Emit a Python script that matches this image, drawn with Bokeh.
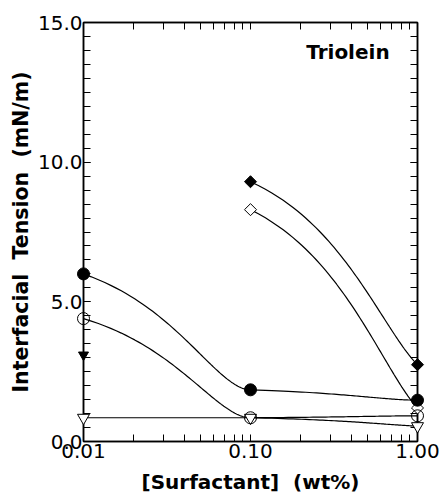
import numpy as np
from bokeh.plotting import figure
from bokeh.models import (LogAxis, LinearAxis, FixedTicker, PrintfTickFormatter,
                          Label, Range1d)
from bokeh.embed import file_html
from bokeh.resources import INLINE

# ---- data ----
conc = [0.01, 0.10, 1.00]
filled_circle = [6.0, 1.85, 1.48]
open_circle = [4.4, 0.85, 0.92]
open_triangle = [0.85, 0.85, 0.55]
filled_triangle_conc = [0.01]
filled_triangle = [3.1]
diamond_conc = [0.10, 1.00]
filled_diamond = [9.3, 2.75]
open_diamond = [8.3, 1.2]

x_major = [0.01, 0.1, 1.0]
x_minor = [0.02, 0.03, 0.04, 0.05, 0.06, 0.07, 0.08, 0.09,
           0.2, 0.3, 0.4, 0.5, 0.6, 0.7, 0.8, 0.9]
y_major = [0, 5, 10, 15]
y_minor = [i * 0.5 for i in range(31)]

title_text = "Triolein"
# second space of each double space is a no-break space so SVG keeps the gap
x_title = "[Surfactant]\u00a0 (wt%)"
y_title = "Interfacial\u00a0 Tension\u00a0 (mN/m)"

FONT = "DejaVu Sans"


def smooth(xs, ys, bends, n=80):
    cx, cy = [], []
    for k in range(len(xs) - 1):
        g = np.linspace(0, 1, n)
        f = g + bends[k] * g * (1 - g)
        cx.extend(xs[k] + g * (xs[k + 1] - xs[k]))
        cy.extend(ys[k] + f * (ys[k + 1] - ys[k]))
    return cx, cy


p = figure(x_axis_type="log", x_range=Range1d(0.01, 1.0), y_range=Range1d(0, 15),
           frame_width=334, frame_height=419,
           min_border_left=83, min_border_right=28, min_border_top=22, min_border_bottom=56,
           output_backend="svg", toolbar_location=None)
p.xgrid.visible = False
p.ygrid.visible = False
p.outline_line_color = "black"
p.outline_line_width = 1.5
p.background_fill_color = "white"
p.border_fill_color = "white"

xt = FixedTicker(ticks=x_major, minor_ticks=x_minor)
yt = FixedTicker(ticks=y_major, minor_ticks=y_minor)


def style_axis(ax, labels=True):
    ax.axis_line_color = "black"
    ax.axis_line_width = 1.5
    ax.major_tick_in = 7
    ax.major_tick_out = 0
    ax.minor_tick_in = 7
    ax.minor_tick_out = 0
    ax.major_tick_line_color = "black"
    ax.minor_tick_line_color = "black"
    ax.major_tick_line_width = 1
    ax.minor_tick_line_width = 1
    if labels:
        ax.major_label_text_font = FONT
        ax.major_label_text_font_size = "20px"
        ax.major_label_text_color = "black"
        ax.axis_label_text_font = FONT
        ax.axis_label_text_font_size = "20px"
        ax.axis_label_text_font_style = "bold"
        ax.axis_label_text_color = "black"
    else:
        ax.major_label_text_font_size = "1px"
        ax.major_label_text_alpha = 0
        ax.major_label_standoff = 0


xa = p.xaxis[0]
xa.ticker = xt
xa.formatter = PrintfTickFormatter(format="%.2f")
xa.axis_label = x_title
xa.major_label_standoff = 2
xa.axis_label_standoff = 9
style_axis(xa)

ya = p.yaxis[0]
ya.ticker = yt
ya.formatter = PrintfTickFormatter(format="%.1f")
ya.axis_label = y_title
ya.major_label_standoff = 1
ya.axis_label_standoff = 2
style_axis(ya)
ya.axis_label_text_font_size = "20.5px"

top = LogAxis(ticker=FixedTicker(ticks=x_major, minor_ticks=x_minor))
style_axis(top, labels=False)
p.add_layout(top, "above")
right = LinearAxis(ticker=FixedTicker(ticks=y_major, minor_ticks=y_minor))
style_axis(right, labels=False)
p.add_layout(right, "right")

LW = 1.2
LEVEL = "annotation"  # drawn without frame clipping, so edge markers show whole
for ys, bends in [(filled_circle, [1.0, 1.0]), (open_circle, [1.0, 1.0]),
                  (open_triangle, [1.0, 0.65])]:
    cx, cy = smooth(conc, ys, bends)
    p.line(cx, cy, line_color="black", line_width=LW, level=LEVEL)
for ys in [filled_diamond, open_diamond]:
    cx, cy = smooth(diamond_conc, ys, [0.65])
    p.line(cx, cy, line_color="black", line_width=LW, level=LEVEL)

# markers
p.scatter(diamond_conc, open_diamond, marker="square", angle=np.pi / 4, size=8.5,
          fill_color="white", line_color="black", line_width=1, level=LEVEL)
p.scatter(diamond_conc, filled_diamond, marker="square", angle=np.pi / 4, size=8.5,
          fill_color="black", line_color="black", line_width=1, level=LEVEL)
p.scatter(conc, open_triangle, marker="inverted_triangle", size=12,
          fill_color="white", line_color="black", line_width=1, level=LEVEL)
p.scatter(conc, open_circle, marker="circle", size=12,
          fill_color=None, line_color="black", line_width=1, level=LEVEL)
p.scatter(conc, filled_circle, marker="circle", size=12,
          fill_color="black", line_color="black", line_width=1, level=LEVEL)
p.scatter(filled_triangle_conc, filled_triangle, marker="inverted_triangle", size=10,
          fill_color="black", line_color="black", line_width=1, level=LEVEL)

p.add_layout(Label(x=0.2156, y=13.95, text=title_text, text_font=FONT,
                   text_font_size="20px", text_font_style="bold",
                   text_color="black", text_baseline="alphabetic"))

open("out.html", "w").write(file_html(p, INLINE))
